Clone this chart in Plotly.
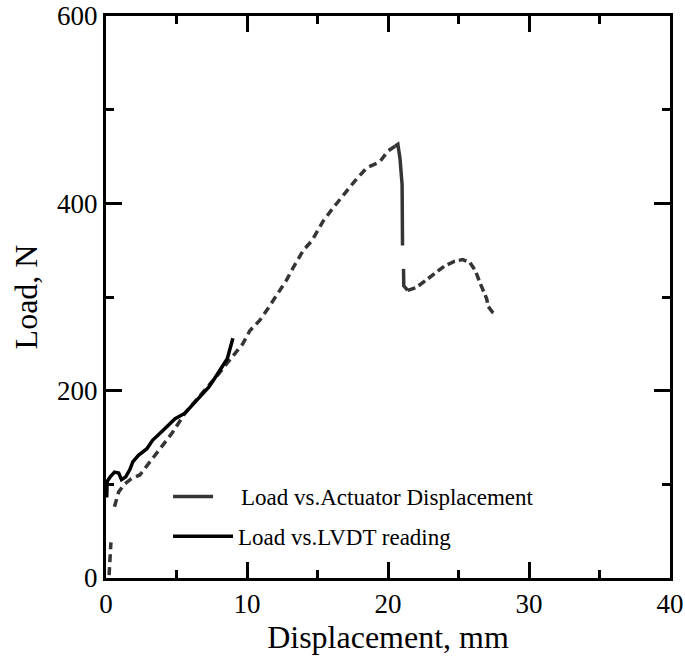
import plotly.graph_objects as go

# Load vs. actuator displacement: rising branch (dashed)
act_rise_x = [0.22, 0.28, 0.35, None, 0.6, 0.9, 1.3, 1.8, 2.4, 3.0, 3.5, 4.2, 4.7, 5.6, 6.3, 7.0,
              7.6, 8.2, 9.1, 9.7, 10.2, 10.9, 11.5, 12.3, 12.8, 13.3, 14.0, 14.6, 15.4, 16.1,
              16.8, 17.6, 18.5, 19.4, 20.0, 20.5]
act_rise_y = [3, 20, 38, None, 76, 92, 100, 106, 110, 122, 132, 145, 155, 176, 188, 200,
              211, 222, 238, 250, 264, 275, 288, 307, 318, 332, 350, 360, 381, 395,
              408, 423, 438, 444, 456, 461]

# Load drop after peak (continuous record)
act_drop_x = [20.5, 20.7, 20.85, 21.0, 21.03, None, 21.1, 21.12, 21.4]
act_drop_y = [461, 463, 448, 420, 355, None, 330, 312, 307]

# Post-peak branch (dashed)
act_post_x = [21.4, 22.0, 22.7, 23.3, 24.0, 24.7, 25.3, 25.8, 26.2, 26.5, 26.8, 27.0, 27.1, 27.4, 27.6]
act_post_y = [307, 310, 318, 325, 333, 338, 340, 337, 328, 316, 305, 298, 290, 284, 282]

# Load vs. LVDT reading
lvdt_x = [0.05, 0.08, 0.3, 0.6, 0.9, 1.1, 1.4, 1.7, 1.9, 2.3, 2.9, 3.3, 4.0, 4.9, 5.6,
          6.2, 6.8, 7.3, 7.7, 8.2, 8.6, 8.8, 9.0]
lvdt_y = [86, 103, 108, 113, 112, 105, 108, 116, 124, 131, 138, 147, 157, 170, 176,
          186, 195, 204, 213, 224, 234, 245, 256]

x_title = "Displacement, mm"
y_title = "Load, N"
name_act = "Load vs.Actuator Displacement"
name_lvdt = "Load vs.LVDT reading"

GRAY = "#353535"
FONT = "Liberation Serif"
NBSP = "\u00a0"

fig = go.Figure()
fig.add_trace(go.Scatter(x=act_rise_x, y=act_rise_y, mode="lines", showlegend=False,
                         line=dict(color=GRAY, width=3.5, dash="8px,5px")))
fig.add_trace(go.Scatter(x=act_drop_x, y=act_drop_y, mode="lines", name=NBSP * 4 + name_act,
                         legend="legend",
                         line=dict(color=GRAY, width=3.5)))
fig.add_trace(go.Scatter(x=act_post_x, y=act_post_y, mode="lines", showlegend=False,
                         line=dict(color=GRAY, width=3.5, dash="8px,4px")))
fig.add_trace(go.Scatter(x=lvdt_x, y=lvdt_y, mode="lines", name=name_lvdt,
                         legend="legend2",
                         line=dict(color="#000000", width=3.5)))

axis_common = dict(
    showline=True, linewidth=3, linecolor="black", mirror="ticks",
    ticks="inside", ticklen=16, tickwidth=3, tickcolor="black",
    showgrid=False, zeroline=False, automargin=False,
    tickfont=dict(family=FONT, size=27, color="black"),
)

fig.update_xaxes(range=[0, 40], dtick=10, tick0=0,
                 minor=dict(ticks="inside", ticklen=8, tickwidth=3, tickcolor="black", dtick=5),
                 title=dict(text=x_title, font=dict(family=FONT, size=32, color="black"), standoff=2),
                 **axis_common)
fig.update_yaxes(range=[0, 600], dtick=200, tick0=0,
                 minor=dict(ticks="inside", ticklen=8, tickwidth=3, tickcolor="black", dtick=100),
                 title=dict(text=y_title, font=dict(family=FONT, size=32, color="black"), standoff=10),
                 **axis_common)

legend_font = dict(family=FONT, size=23, color="black")
fig.update_layout(
    width=685, height=658,
    margin=dict(l=106, r=15, t=16, b=80),
    plot_bgcolor="white", paper_bgcolor="white",
    legend=dict(x=0.11, y=0.145, xanchor="left", yanchor="middle",
                bgcolor="rgba(0,0,0,0)", font=legend_font, itemwidth=40),
    legend2=dict(x=0.11, y=0.074, xanchor="left", yanchor="middle",
                 bgcolor="rgba(0,0,0,0)", font=legend_font, itemwidth=60),
)

fig.write_html("out.html")
